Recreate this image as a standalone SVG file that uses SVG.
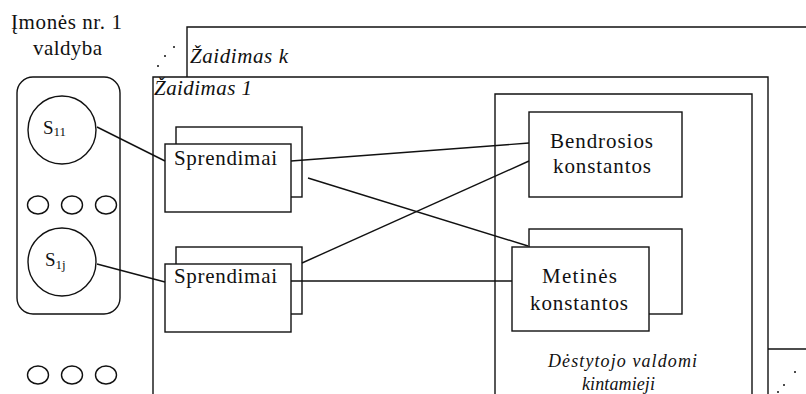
<svg xmlns="http://www.w3.org/2000/svg" width="806" height="394" viewBox="0 0 806 394">
<style>
.ln{fill:none;stroke:#111;stroke-width:1.4}
.bx{fill:#fff;stroke:#111;stroke-width:1.4}
text{font-family:"Liberation Serif","Times New Roman",serif;font-size:21px;fill:#111}
.ti{font-style:italic}
.sm{font-size:18px}
.s{font-size:19px}
.sub{font-size:13px}
.dot{fill:#111}
</style>
<rect width="806" height="394" fill="#fff"/>
<g id="title">
<text x="11" y="29" textLength="111" lengthAdjust="spacing">Įmonės nr. 1</text>
<text x="33" y="55" textLength="69" lengthAdjust="spacing">valdyba</text>
</g>
<g id="game-k">
<path class="ln" d="M187,77 V27 H806"/>
<text class="ti" x="190" y="63" textLength="98" lengthAdjust="spacing">Žaidimas k</text>
<circle class="dot" cx="174" cy="47" r="1"/>
<circle class="dot" cx="165" cy="56" r="1"/>
<circle class="dot" cx="158" cy="66" r="1"/>
</g>
<g id="game-other">
<path class="ln" d="M768,349 H806"/>
<circle class="dot" cx="795" cy="372" r="1"/>
<circle class="dot" cx="784" cy="385" r="1"/>
<circle class="dot" cx="778" cy="392" r="1"/>
</g>
<g id="game-1">
<path class="ln" d="M153,394 V77 H768 V394"/>
<text class="ti" x="154" y="95" textLength="98" lengthAdjust="spacing">Žaidimas 1</text>
</g>
<g id="board">
<rect class="bx" x="17" y="77" width="103" height="237" rx="16"/>
<circle class="bx" cx="62" cy="130" r="34"/>
<text class="s" x="43" y="134">S<tspan class="sub" dy="2">11</tspan></text>
<circle class="bx" cx="62" cy="262" r="34"/>
<text class="s" x="45" y="266">S<tspan class="sub" dy="3">1j</tspan></text>
<ellipse class="bx" cx="38" cy="205" rx="10.5" ry="9"/>
<ellipse class="bx" cx="72" cy="205" rx="10.5" ry="9"/>
<ellipse class="bx" cx="106" cy="205" rx="10.5" ry="9"/>
</g>
<g id="more">
<ellipse class="bx" cx="38" cy="375" rx="10.5" ry="9"/>
<ellipse class="bx" cx="72" cy="375" rx="10.5" ry="9"/>
<ellipse class="bx" cx="106" cy="375" rx="10.5" ry="9"/>
</g>
<g id="teacher">
<path class="ln" d="M495,394 V94 H752 V394"/>
<text class="ti sm" x="548" y="367" textLength="149" lengthAdjust="spacing">Dėstytojo valdomi</text>
<text class="ti sm" x="582" y="390" textLength="73" lengthAdjust="spacing">kintamieji</text>
</g>
<g id="sprendimai-1">
<rect class="bx" x="176" y="127" width="126" height="70"/>
<rect class="bx" x="165" y="144" width="126" height="68"/>
<text x="174" y="165" textLength="103" lengthAdjust="spacing">Sprendimai</text>
</g>
<g id="sprendimai-2">
<rect class="bx" x="176" y="247" width="126" height="67"/>
<rect class="bx" x="165" y="264" width="126" height="68"/>
<text x="174" y="283" textLength="103" lengthAdjust="spacing">Sprendimai</text>
</g>
<g id="bendrosios">
<rect class="bx" x="529" y="112" width="153" height="85"/>
<text x="550" y="148" textLength="103" lengthAdjust="spacing">Bendrosios</text>
<text x="553" y="173" textLength="98" lengthAdjust="spacing">konstantos</text>
</g>
<g id="metines">
<rect class="bx" x="529" y="229" width="153" height="85"/>
<rect class="bx" x="512" y="247" width="137" height="84"/>
<text x="542" y="283" textLength="75" lengthAdjust="spacing">Metinės</text>
<text x="530" y="310" textLength="98" lengthAdjust="spacing">konstantos</text>
</g>
<g id="connectors">
<path class="ln" d="M97,127 L165,161"/>
<path class="ln" d="M97,264 L165,282"/>
<path class="ln" d="M291,161 L529,143"/>
<path class="ln" d="M308,178 L528,246"/>
<path class="ln" d="M302,263 L529,161"/>
<path class="ln" d="M291,281 L512,281"/>
</g>
</svg>
